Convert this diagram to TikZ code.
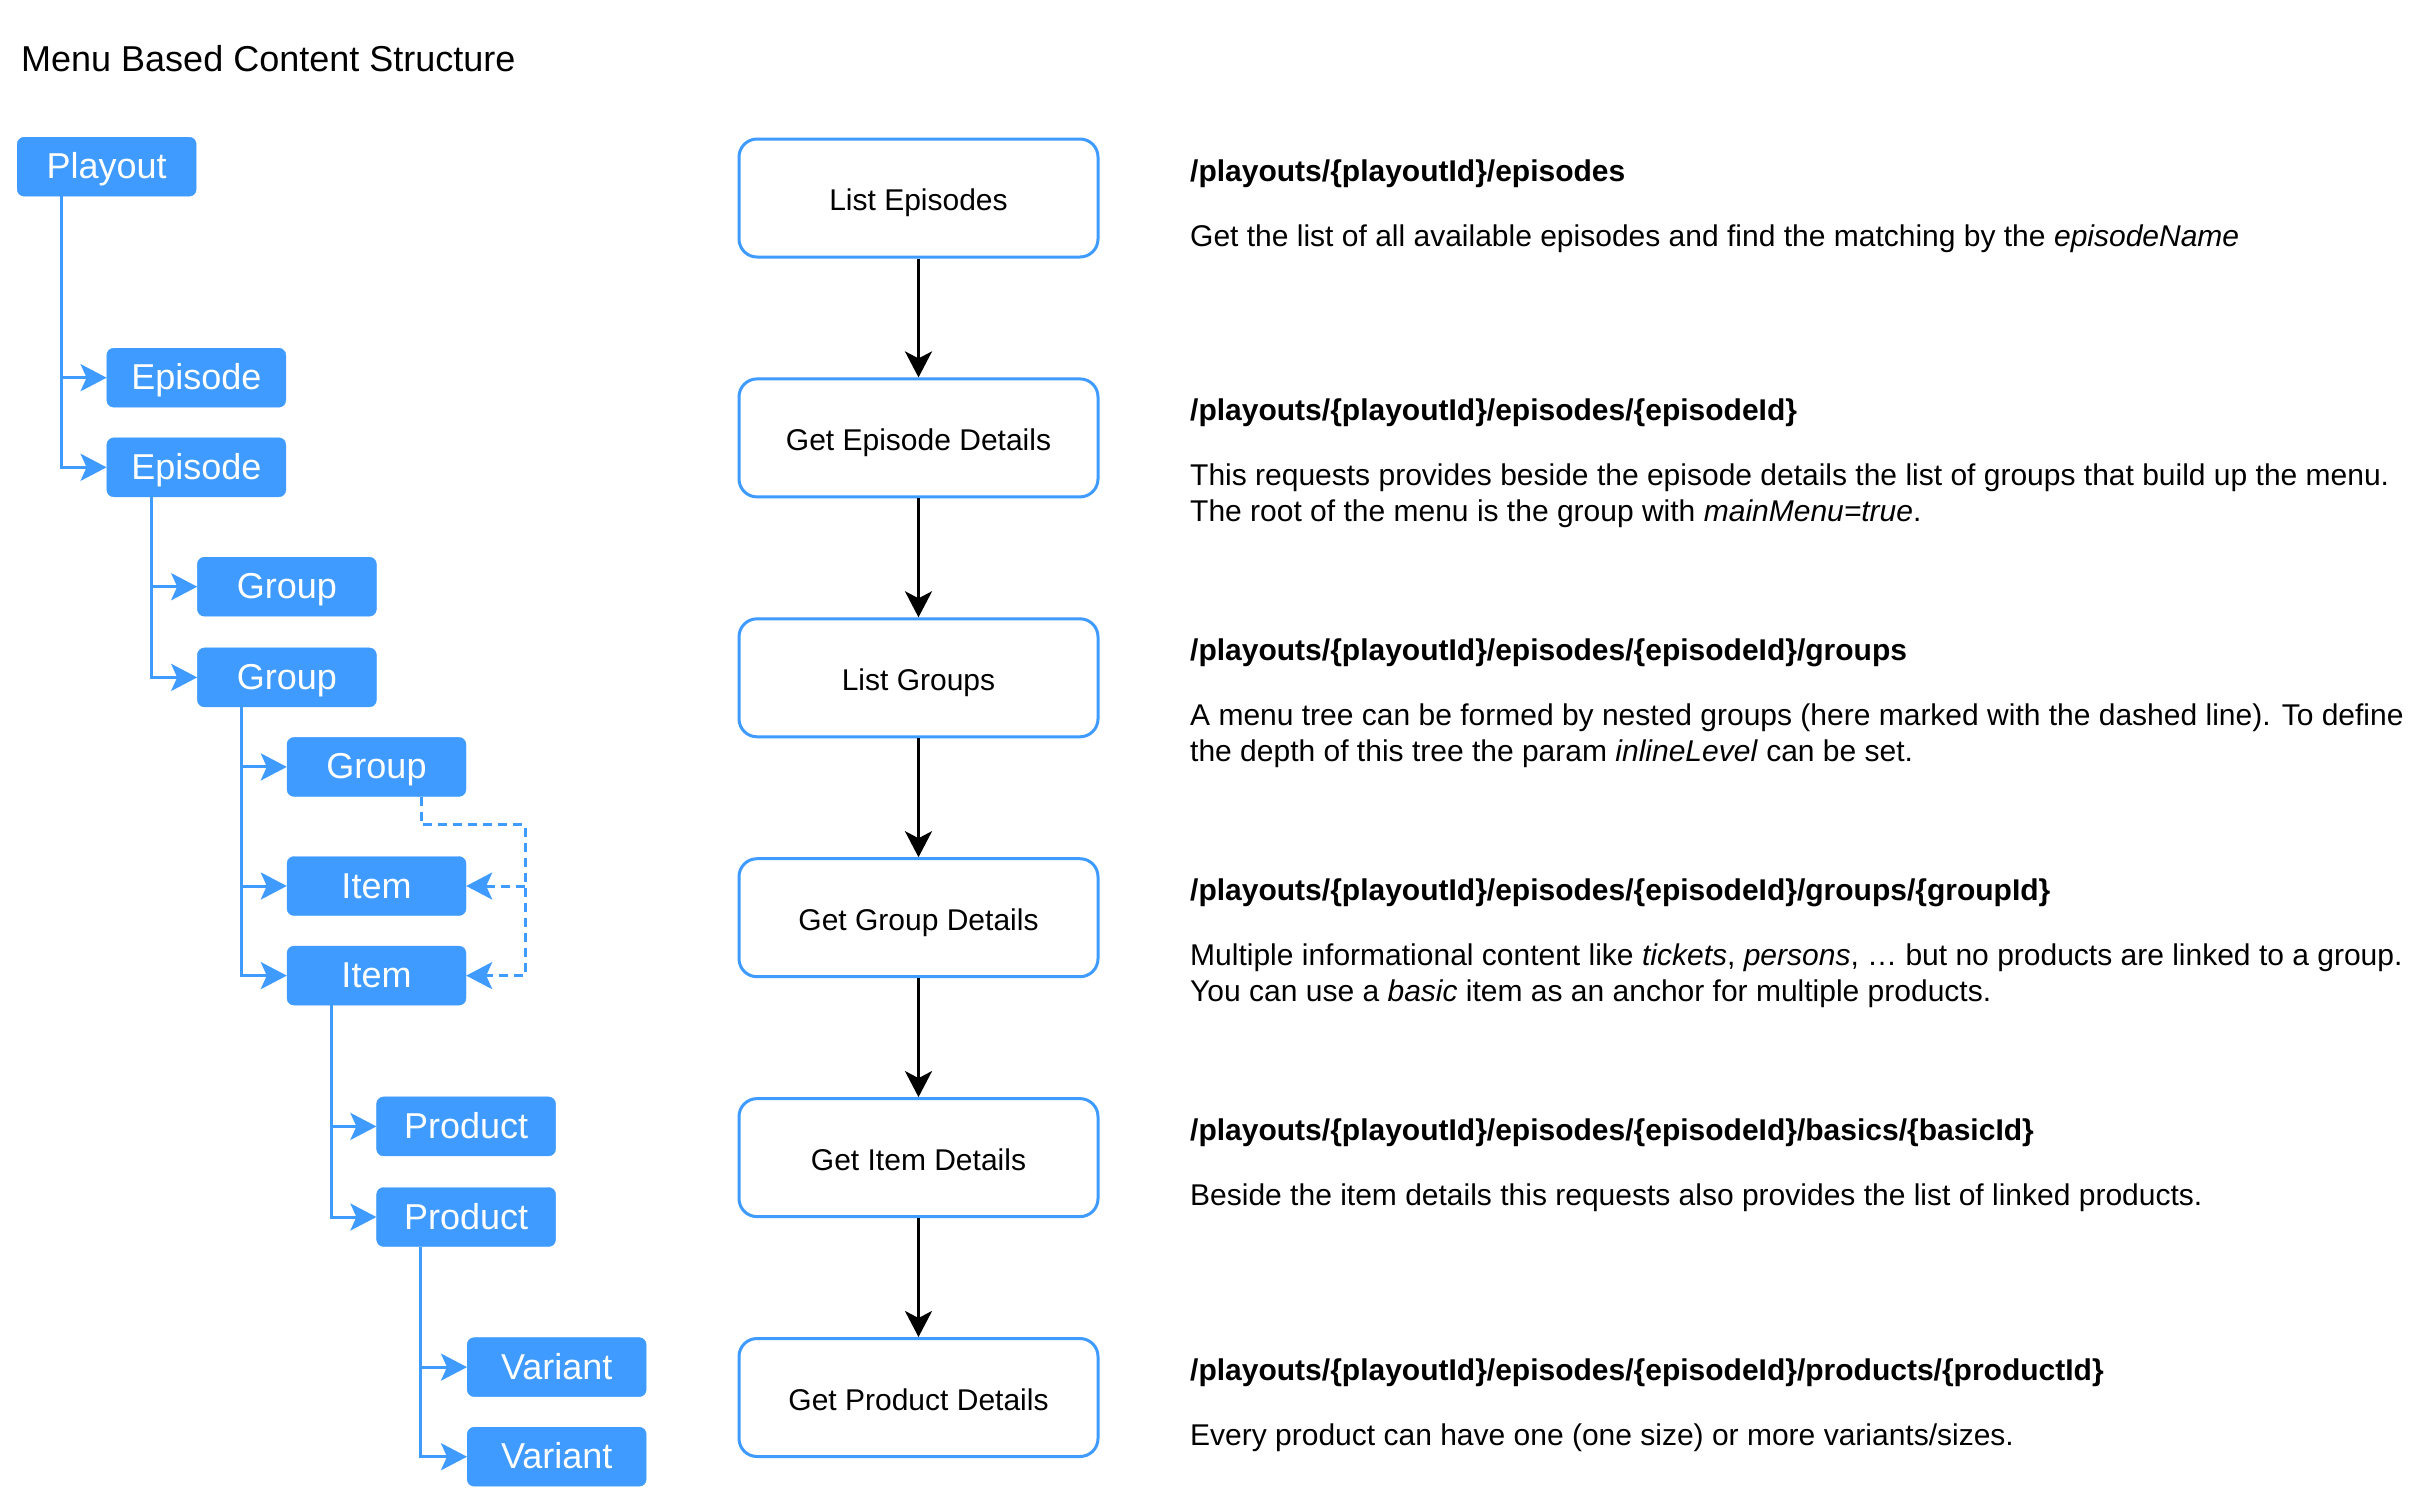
\documentclass[tikz,border=0pt]{standalone}
\usepackage{fontspec}
\setmainfont{Liberation Sans}
\usetikzlibrary{arrows.meta}
\definecolor{tblue}{HTML}{3F9BFF}
\tikzset{
  tbox/.style={fill=tblue, draw=tblue, rounded corners=7pt, minimum width=179pt, minimum height=59pt,
    inner sep=0pt, text=white, font=\fontsize{36}{40}\selectfont, anchor=north west,
    text height=24pt, text depth=0pt},
  stepbox/.style={draw=tblue, line width=3pt, rounded corners=18pt, fill=white, minimum width=359pt,
    minimum height=118pt, anchor=north west, font=\fontsize{30}{36}\selectfont, inner sep=0pt,
    text height=25pt, text depth=0pt},
  tline/.style={draw=tblue, line width=3pt, -{Stealth[length=26pt,width=27pt,inset=6pt]}},
  dline/.style={tline, dash pattern=on 9pt off 6pt},
  flow/.style={draw=black, line width=3pt, -{Stealth[length=26pt,width=27pt,inset=7pt]}},
  head/.style={anchor=base west, font=\fontsize{30}{36}\selectfont\bfseries, inner sep=0pt},
  desc/.style={anchor=base west, font=\fontsize{30}{36}\selectfont, inner sep=0pt, align=left},
}
\begin{document}
\begin{tikzpicture}[x=1pt,y=-1pt]
\useasboundingbox (0,0) rectangle (2430,1500);
\node[anchor=base west, inner sep=0pt, font=\fontsize{36}{40}\selectfont] (title) at (21,71.5) {Menu Based Content Structure};

% tree
\node[tbox] (playout) at (17,137) {Playout};
\node[tbox] (ep1) at (106.6,348) {Episode};
\node[tbox] (ep2) at (106.6,437.6) {Episode};
\node[tbox] (grp1) at (197.2,557) {Group};
\node[tbox] (grp2) at (197.2,647.7) {Group};
\node[tbox] (grp3) at (286.8,737.2) {Group};
\node[tbox] (item1) at (286.8,856.3) {Item};
\node[tbox] (item2) at (286.8,945.9) {Item};
\node[tbox] (prod1) at (376.4,1096.7) {Product};
\node[tbox] (prod2) at (376.4,1187.3) {Product};
\node[tbox] (var1) at (467,1337.4) {Variant};
\node[tbox] (var2) at (467,1427) {Variant};

\draw[tline] ([xshift=44.5pt]playout.south west) |- (ep1.west);
\draw[tline] ([xshift=44.5pt]playout.south west) |- (ep2.west);
\draw[tline] ([xshift=44.5pt]ep2.south west) |- (grp1.west);
\draw[tline] ([xshift=44.5pt]ep2.south west) |- (grp2.west);
\draw[tline] ([xshift=44.5pt]grp2.south west) |- (grp3.west);
\draw[tline] ([xshift=44.5pt]grp2.south west) |- (item1.west);
\draw[tline] ([xshift=44.5pt]grp2.south west) |- (item2.west);
\draw[tline] ([xshift=44.5pt]item2.south west) |- (prod1.west);
\draw[tline] ([xshift=44.5pt]item2.south west) |- (prod2.west);
\draw[tline] ([xshift=44.5pt]prod2.south west) |- (var1.west);
\draw[tline] ([xshift=44.5pt]prod2.south west) |- (var2.west);

% dashed nesting
\draw[dline] ([xshift=-45pt]grp3.south east) -- ++(0,28) -| ([xshift=59pt]item2.east) -- (item2.east);
\draw[dline] ([xshift=59pt]item1.east) -- (item1.east);

% flow
\node[stepbox] (s1) at (737.5,137.5) {List Episodes};
\node[stepbox] (s2) at (737.5,377.4) {Get Episode Details};
\node[stepbox] (s3) at (737.5,617.3) {List Groups};
\node[stepbox] (s4) at (737.5,857.2) {Get Group Details};
\node[stepbox] (s5) at (737.5,1097.1) {Get Item Details};
\node[stepbox] (s6) at (737.5,1337) {Get Product Details};
\draw[flow] (s1) -- (s2);
\draw[flow] (s2) -- (s3);
\draw[flow] (s3) -- (s4);
\draw[flow] (s4) -- (s5);
\draw[flow] (s5) -- (s6);

% descriptions
\node[head] (h1) at (1190,181) {/playouts/\{playoutId\}/episodes};
\node[desc] (d1) at (1190,246) {Get the list of all available episodes and find the matching by the \textit{episodeName}};
\node[head] (h2) at (1190,420.9) {/playouts/\{playoutId\}/episodes/\{episodeId\}};
\node[desc] (d2) at (1190,521.9) {This requests provides beside the episode details the list of groups that build up the menu.\\The root of the menu is the group with \textit{mainMenu=true}.};
\node[head] (h3) at (1190,660.8) {/playouts/\{playoutId\}/episodes/\{episodeId\}/groups};
\node[desc] (d3) at (1190,761.8) {A menu tree can be formed by nested groups (here marked with the dashed line). To define\\the depth of this tree the param \textit{inlineLevel} can be set.};
\node[head] (h4) at (1190,900.7) {/playouts/\{playoutId\}/episodes/\{episodeId\}/groups/\{groupId\}};
\node[desc] (d4) at (1190,1001.7) {Multiple informational content like \textit{tickets}, \textit{persons}, \dots\ but no products are linked to a group.\\You can use a \textit{basic} item as an anchor for multiple products.};
\node[head] (h5) at (1190,1140.6) {/playouts/\{playoutId\}/episodes/\{episodeId\}/basics/\{basicId\}};
\node[desc] (d5) at (1190,1205.6) {Beside the item details this requests also provides the list of linked products.};
\node[head] (h6) at (1190,1380.5) {/playouts/\{playoutId\}/episodes/\{episodeId\}/products/\{productId\}};
\node[desc] (d6) at (1190,1445.5) {Every product can have one (one size) or more variants/sizes.};
\end{tikzpicture}
\end{document}
